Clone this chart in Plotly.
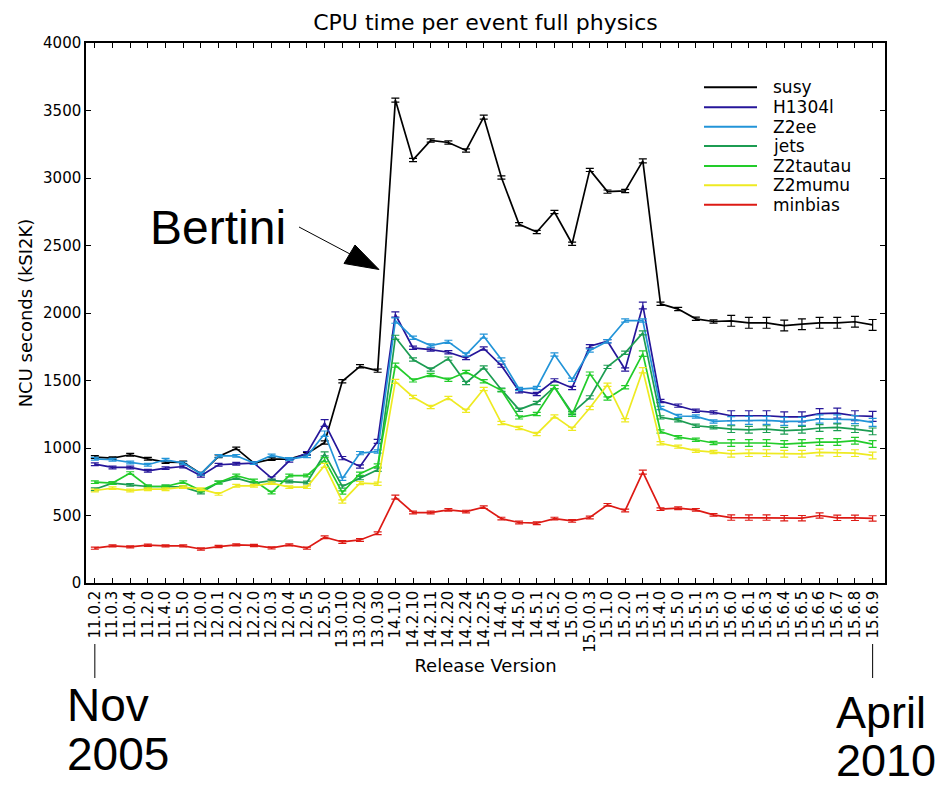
import plotly.graph_objects as go

releases = ["11.0.2", "11.0.3", "11.0.4", "11.2.0", "11.4.0", "11.5.0", "12.0.0", "12.0.1",
            "12.0.2", "12.2.0", "12.0.3", "12.0.4", "12.0.5", "12.5.0", "13.0.10", "13.0.20",
            "13.0.30", "14.1.0", "14.2.10", "14.2.11", "14.2.20", "14.2.24", "14.2.25", "14.4.0",
            "14.5.0", "14.5.1", "14.5.2", "15.0.0", "15.0.0.3", "15.1.0", "15.2.0", "15.3.1",
            "15.4.0", "15.5.0", "15.5.1", "15.5.3", "15.6.0", "15.6.1", "15.6.3", "15.6.4",
            "15.6.5", "15.6.6", "15.6.7", "15.6.8", "15.6.9"]

susy = [933, 925, 950, 920, 896, 893, 809, 938, 997, 888, 918, 918, 957, 1041, 1494, 1605,
        1573, 3577, 3134, 3278, 3263, 3204, 3451, 3003, 2657, 2600, 2748, 2513, 3060, 2899,
        2904, 3127, 2068, 2029, 1957, 1937, 1942, 1927, 1927, 1907, 1917, 1927, 1927, 1935, 1912]
h1304l = [880, 856, 856, 831, 851, 863, 794, 876, 883, 888, 777, 905, 962, 1185, 925, 863,
          1049, 1989, 1742, 1729, 1709, 1667, 1737, 1610, 1420, 1400, 1501, 1445, 1754, 1791,
          1581, 2056, 1348, 1314, 1276, 1264, 1239, 1239, 1239, 1230, 1230, 1254, 1259, 1239, 1234]
z2ee = [920, 913, 893, 876, 913, 888, 809, 942, 942, 888, 945, 918, 938, 1106, 772, 962,
        974, 1944, 1816, 1759, 1786, 1692, 1828, 1655, 1437, 1445, 1692, 1506, 1722, 1791,
        1944, 1944, 1296, 1237, 1234, 1197, 1202, 1205, 1205, 1197, 1197, 1215, 1215, 1210, 1190]
jets = [695, 740, 727, 715, 715, 710, 670, 744, 777, 740, 759, 752, 744, 957, 715, 777,
        839, 1820, 1655, 1581, 1662, 1482, 1596, 1432, 1284, 1334, 1452, 1259, 1375, 1601,
        1705, 1853, 1227, 1206, 1165, 1153, 1140, 1135, 1140, 1128, 1135, 1148, 1153, 1140, 1123]
z2tautau = [747, 740, 814, 715, 715, 747, 685, 744, 796, 759, 670, 796, 796, 913, 670, 809,
            871, 1613, 1501, 1541, 1506, 1563, 1494, 1427, 1227, 1252, 1452, 1247, 1551, 1366,
            1450, 1699, 1122, 1080, 1061, 1037, 1037, 1037, 1037, 1029, 1037, 1044, 1044, 1054, 1029]
z2mumu = [685, 703, 685, 695, 695, 710, 695, 660, 720, 720, 740, 710, 710, 871, 604, 740,
          735, 1494, 1378, 1304, 1371, 1276, 1437, 1185, 1148, 1104, 1234, 1143, 1296, 1469,
          1205, 1576, 1035, 1010, 980, 970, 957, 962, 962, 957, 957, 967, 962, 962, 945]
minbias = [258, 275, 268, 280, 275, 275, 252, 270, 282, 278, 260, 282, 258, 339, 304, 319,
           369, 636, 522, 522, 542, 529, 562, 477, 448, 443, 477, 460, 485, 579, 537, 821,
           547, 554, 542, 505, 485, 485, 485, 480, 480, 500, 483, 483, 478]

susy_err = [10, 10, 10, 10, 10, 10, 10, 10, 10, 10, 10, 10, 10, 12, 12, 12, 12, 15, 12, 12,
            12, 12, 15, 12, 12, 12, 12, 12, 12, 12, 12, 15, 12, 12, 12, 12, 40, 40, 40, 40,
            40, 40, 40, 40, 40]
h1304l_err = [10, 10, 10, 10, 10, 10, 10, 10, 10, 10, 10, 10, 12, 25, 12, 12, 15, 20, 12, 12,
              12, 12, 12, 12, 12, 12, 12, 12, 12, 12, 12, 25, 12, 12, 12, 12, 37, 37, 37, 37,
              37, 37, 37, 37, 37]
z2ee_err = [10, 10, 10, 10, 10, 10, 10, 10, 10, 10, 10, 10, 10, 20, 12, 12, 12, 20, 12, 12,
            12, 12, 15, 12, 12, 12, 12, 12, 12, 12, 12, 12, 12, 12, 12, 12, 30, 30, 30, 30,
            30, 30, 30, 30, 30]
jets_err = [10, 10, 10, 10, 10, 10, 10, 10, 10, 10, 10, 10, 10, 15, 12, 12, 12, 15, 12, 12,
            12, 12, 12, 12, 12, 12, 12, 12, 12, 12, 12, 15, 12, 12, 12, 12, 25, 25, 25, 25,
            25, 25, 25, 25, 25]
z2tautau_err = [10, 10, 10, 10, 10, 10, 10, 10, 10, 10, 10, 10, 10, 15, 12, 12, 12, 15, 12, 12,
                12, 12, 12, 12, 12, 12, 12, 12, 12, 12, 12, 20, 12, 12, 12, 12, 25, 25, 25, 25,
                25, 25, 25, 25, 25]
z2mumu_err = [10, 10, 10, 10, 10, 10, 10, 10, 10, 10, 10, 10, 10, 15, 12, 12, 12, 15, 12, 12,
              12, 12, 12, 12, 12, 12, 12, 12, 12, 12, 12, 20, 12, 12, 12, 12, 25, 25, 25, 25,
              25, 25, 25, 25, 25]
minbias_err = [8, 8, 8, 8, 8, 8, 8, 8, 8, 8, 8, 8, 8, 10, 10, 10, 10, 15, 10, 10,
               10, 10, 10, 10, 10, 10, 10, 10, 10, 10, 10, 15, 10, 10, 10, 10, 20, 20, 20, 20,
               20, 20, 20, 20, 20]

series = [
    ("susy", susy, susy_err, "#000000"),
    ("H1304l", h1304l, h1304l_err, "#26169a"),
    ("Z2ee", z2ee, z2ee_err, "#2294d8"),
    ("jets", jets, jets_err, "#1c9c52"),
    ("Z2tautau", z2tautau, z2tautau_err, "#22cc2a"),
    ("Z2mumu", z2mumu, z2mumu_err, "#eeea22"),
    ("minbias", minbias, minbias_err, "#dd1a14"),
]

# page offset of the figure inside the browser window (body margin)
OFF = 8
WIN_W, WIN_H = 946, 785
W, H = WIN_W - OFF, WIN_H - OFF
# plot area in window pixels
L, R, T, B = 86, 885, 43, 583


def px(x):
    return (x - L) / (R - L)


def py(y):
    return (B - y) / (B - T)


fig = go.Figure()
for name, vals, errs, col in series:
    fig.add_trace(go.Scatter(
        x=releases, y=vals, name=name, mode="lines", showlegend=False,
        line=dict(color=col, width=1.7),
        error_y=dict(type="data", array=errs, visible=True, color=col, thickness=1.2, width=4),
    ))

font_axes = "DejaVu Sans"
big = "Liberation Sans, Arial"

annotations = [
    dict(text="Bertini", xref="paper", yref="paper", x=px(148), y=py(228), xanchor="left",
         yanchor="middle", showarrow=False, font=dict(family=big, size=48, color="black")),
    dict(text="Nov", xref="paper", yref="paper", x=px(65), y=py(705), xanchor="left",
         yanchor="middle", showarrow=False, font=dict(family=big, size=46, color="black")),
    dict(text="2005", xref="paper", yref="paper", x=px(65), y=py(754), xanchor="left",
         yanchor="middle", showarrow=False, font=dict(family=big, size=46, color="black")),
    dict(text="April", xref="paper", yref="paper", x=px(834), y=py(712), xanchor="left",
         yanchor="middle", showarrow=False, font=dict(family=big, size=45, color="black")),
    dict(text="2010", xref="paper", yref="paper", x=px(834), y=py(761), xanchor="left",
         yanchor="middle", showarrow=False, font=dict(family=big, size=45, color="black")),
]

shapes = [
    dict(type="line", xref="x", yref="paper", x0=0, x1=0, y0=py(644), y1=py(678),
         line=dict(color="black", width=1)),
    dict(type="line", xref="x", yref="paper", x0=44, x1=44, y0=py(644), y1=py(678),
         line=dict(color="black", width=1)),
    dict(type="line", xref="paper", yref="paper", x0=px(299), y0=py(227), x1=px(350), y1=py(254),
         line=dict(color="black", width=1)),
    dict(type="path", xref="paper", yref="paper",
         path="M %f %f L %f %f L %f %f Z" % (px(355), py(245), px(344), py(263.5), px(379), py(269.5)),
         fillcolor="black", line=dict(color="black", width=1)),
]

# hand-made legend (matplotlib-like spacing)
leg_y = [87.3, 107.3, 126.7, 146, 166, 185.3, 204.7]
for (name, vals, errs, col), yy in zip(series, leg_y):
    shapes.append(dict(type="line", xref="paper", yref="paper", x0=px(704), x1=px(757),
                       y0=py(yy), y1=py(yy), line=dict(color=col, width=2)))
    annotations.append(dict(text=name, xref="paper", yref="paper", x=px(771), y=py(yy),
                            xanchor="left", yanchor="middle", showarrow=False,
                            font=dict(family=font_axes, size=17, color="black")))

fig.update_layout(
    width=W, height=H,
    margin=dict(l=L - OFF, r=WIN_W - R, t=T - OFF, b=WIN_H - B, pad=0),
    paper_bgcolor="white", plot_bgcolor="white",
    font=dict(family=font_axes, color="black", size=15),
    showlegend=False,
    title=dict(text="CPU time per event full physics", x=0.5, xref="paper", xanchor="center",
               y=1 - (22 - OFF) / H, yref="container", yanchor="middle",
               font=dict(family=font_axes, size=22, color="black")),
    xaxis=dict(
        type="category", range=[-0.5, 44.7], showgrid=False, showline=True, linecolor="black",
        linewidth=1.5, mirror="ticks", ticks="inside", ticklen=5, tickcolor="black",
        tickmode="array", tickvals=releases, ticktext=releases,
        tickangle=-90, tickfont=dict(size=15), zeroline=False,
        title=dict(text="Release Version", font=dict(size=18), standoff=8),
    ),
    yaxis=dict(
        range=[0, 4000], dtick=500, showgrid=False, showline=True, linecolor="black",
        linewidth=1.5, mirror="ticks", ticks="inside", ticklen=5, tickcolor="black",
        tickfont=dict(size=15), zeroline=False,
        title=dict(text="NCU seconds (kSI2K)", font=dict(size=18), standoff=6),
    ),
    annotations=annotations,
    shapes=shapes,
)

fig.write_html("out.html")
